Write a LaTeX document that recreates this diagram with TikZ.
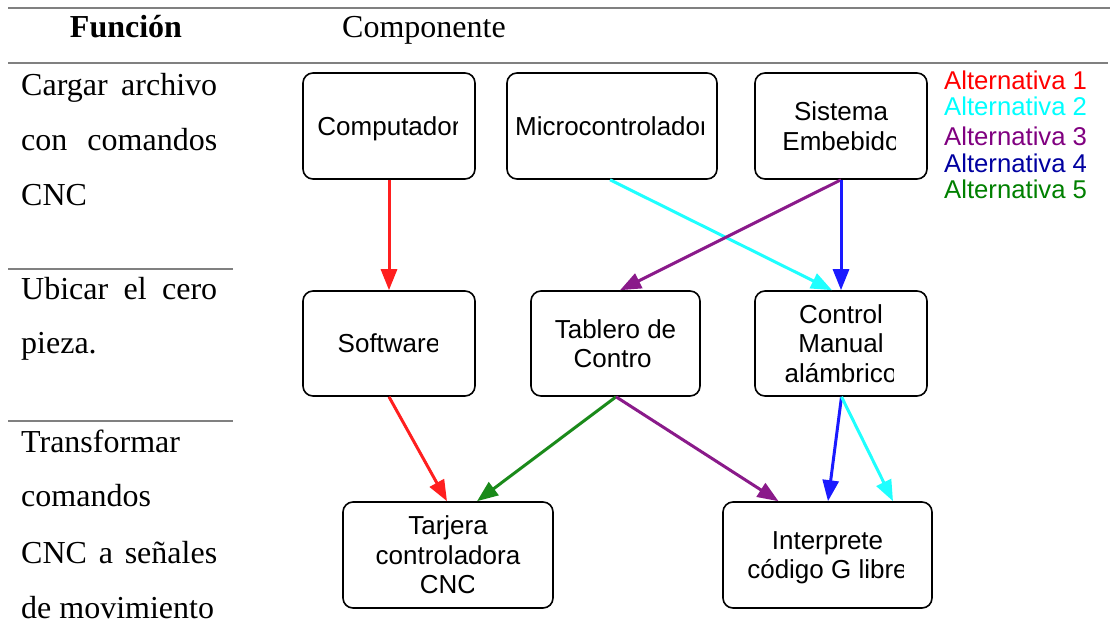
\documentclass[tikz,border=0pt]{standalone}
\usepackage{fontspec}
\setmainfont{Liberation Serif}
\newfontfamily\arialf{Liberation Sans}
\usetikzlibrary{arrows.meta}
\definecolor{rulegray}{HTML}{808080}
\definecolor{cRed}{HTML}{FF1F1F}
\definecolor{cCyan}{HTML}{1FFFFF}
\definecolor{cPurple}{HTML}{8A1A8A}
\definecolor{cBlue}{HTML}{1A1AFF}
\definecolor{cGreen}{HTML}{1A8A1A}
\definecolor{lRed}{HTML}{FF0000}
\definecolor{lCyan}{HTML}{00FFFF}
\definecolor{lPurple}{HTML}{800080}
\definecolor{lBlue}{HTML}{0000A0}
\definecolor{lGreen}{HTML}{008000}
\begin{document}
\begin{tikzpicture}[x=1pt,y=-1pt,
  rulel/.style={draw=rulegray,line width=2pt},
  compbox/.style={draw=black,line width=1.6pt,rounded corners=10pt,fill=white,inner sep=0pt},
  boxtext/.style={font=\arialf\fontsize{26}{29.5}\selectfont,align=center,inner sep=0pt},
  coltext/.style={font=\fontsize{32}{55}\selectfont,anchor=base west,inner sep=0pt},
  headtext/.style={font=\fontsize{32}{38}\selectfont,inner sep=0pt},
  legtext/.style={font=\arialf\fontsize{25.7}{30}\selectfont,anchor=base west,inner sep=0pt},
  conn/.style={line width=3pt,-{Triangle[length=21pt,width=16pt]}},
]
\useasboundingbox (0,0) rectangle (1110,637);

% table rules
\draw[rulel] (8,8) -- (1110,8);
\draw[rulel] (8,63) -- (1108,63);
\draw[rulel] (8,269) -- (233,269);
\draw[rulel] (8,421) -- (233,421);

% header
\node[headtext,anchor=base,font=\bfseries\fontsize{32}{38}\selectfont] (hfun) at (126,37) {Función};
\node[headtext,anchor=base west] (hcomp) at (342,37) {Componente};

% left column
\node[coltext] (f1a) at (21,95) {\makebox[196pt][s]{Cargar archivo}};
\node[coltext] (f1b) at (21,150) {\makebox[196pt][s]{con comandos}};
\node[coltext] (f1c) at (21,205) {CNC};
\node[coltext] (f2a) at (21,299) {\makebox[196pt][s]{Ubicar el cero}};
\node[coltext] (f2b) at (21,353) {pieza.};
\node[coltext] (f3a) at (21,452) {Transformar};
\node[coltext] (f3b) at (21,506) {comandos};
\node[coltext] (f3c) at (21,563) {\makebox[196pt][s]{CNC a señales}};
\node[coltext] (f3d) at (21,618) {de movimiento};

% boxes
\node[compbox,minimum width=172pt,minimum height=106pt] (comp) at (389,126) {};
\node[compbox,minimum width=210pt,minimum height=106pt] (micro) at (612,126) {};
\node[compbox,minimum width=172pt,minimum height=106pt] (sist) at (841,126) {};
\node[compbox,minimum width=172pt,minimum height=105pt] (soft) at (389,343.5) {};
\node[compbox,minimum width=169pt,minimum height=105pt] (tab) at (615.5,343.5) {};
\node[compbox,minimum width=172pt,minimum height=105pt] (ctrl) at (841,343.5) {};
\node[compbox,minimum width=210pt,minimum height=106pt] (tarj) at (448,555) {};
\node[compbox,minimum width=209pt,minimum height=106pt] (interp) at (827.5,555) {};

% box texts (clipped as in the reference)
\begin{scope}
  \clip (303,73) rectangle (457,179);
  \node[boxtext,yshift=-2.75pt] (compT) at (comp) {Computador};
\end{scope}
\begin{scope}
  \clip (507,73) rectangle (703.5,179);
  \node[boxtext] (microT) at (micro) {Microcontrolador};
\end{scope}
\begin{scope}
  \clip (755,73) rectangle (895,179);
  \node[boxtext] (sistT) at (sist) {Sistema\\Embebido};
\end{scope}
\begin{scope}
  \clip (303,291) rectangle (437,396);
  \node[boxtext] (softT) at (soft) {Software};
\end{scope}
\begin{scope}
  \clip (531,291) rectangle (700,343) (531,343) rectangle (652.5,396);
  \node[boxtext] (tabT) at (tab) {Tablero de\\Control};
\end{scope}
\begin{scope}
  \clip (755,291) rectangle (893,396);
  \node[boxtext] (ctrlT) at (ctrl) {Control\\Manual\\alámbrico};
\end{scope}
\begin{scope}
  \clip (343,502) rectangle (553,570) (343,570) rectangle (473,608);
  \node[boxtext] (tarjT) at (tarj) {Tarjera\\controladora\\CNC};
\end{scope}
\begin{scope}
  \clip (723,502) rectangle (903,608);
  \node[boxtext,yshift=-2.75pt] (interpT) at (interp) {Interprete\\código G libre};
\end{scope}

% legend
\begin{scope}
  \clip (938,60) rectangle (1085.5,215);
  \node[legtext,text=lRed] (alt1) at (944,89) {Alternativa 1};
  \node[legtext,text=lCyan] (alt2) at (944,115) {Alternativa 2};
  \node[legtext,text=lPurple] (alt3) at (944,145) {Alternativa 3};
  \node[legtext,text=lBlue] (alt4) at (944,172) {Alternativa 4};
  \node[legtext,text=lGreen] (alt5) at (944,198) {Alternativa 5};
\end{scope}

% connectors
\draw[conn,cRed] (comp.south) -- (soft.north);
\draw[conn,cCyan] ([xshift=-2pt]micro.south) -- ([xshift=-9pt]ctrl.north);
\draw[conn,cPurple] (sist.south) -- ([xshift=4.5pt]tab.north);
\draw[conn,cBlue] (sist.south) -- (ctrl.north);
\draw[conn,cRed] (soft.south) -- ([xshift=-1pt]tarj.north);
\draw[conn,cGreen] ([xshift=0.5pt]tab.south) -- ([xshift=29pt]tarj.north);
\draw[conn,cPurple] ([xshift=0.5pt]tab.south) -- ([xshift=-49pt]interp.north);
\draw[conn,cBlue] ([xshift=0.5pt]ctrl.south) -- ([xshift=0.5pt]interp.north);
\draw[conn,cCyan] ([xshift=0.5pt]ctrl.south) -- ([xshift=65.5pt]interp.north);
\end{tikzpicture}
\end{document}
